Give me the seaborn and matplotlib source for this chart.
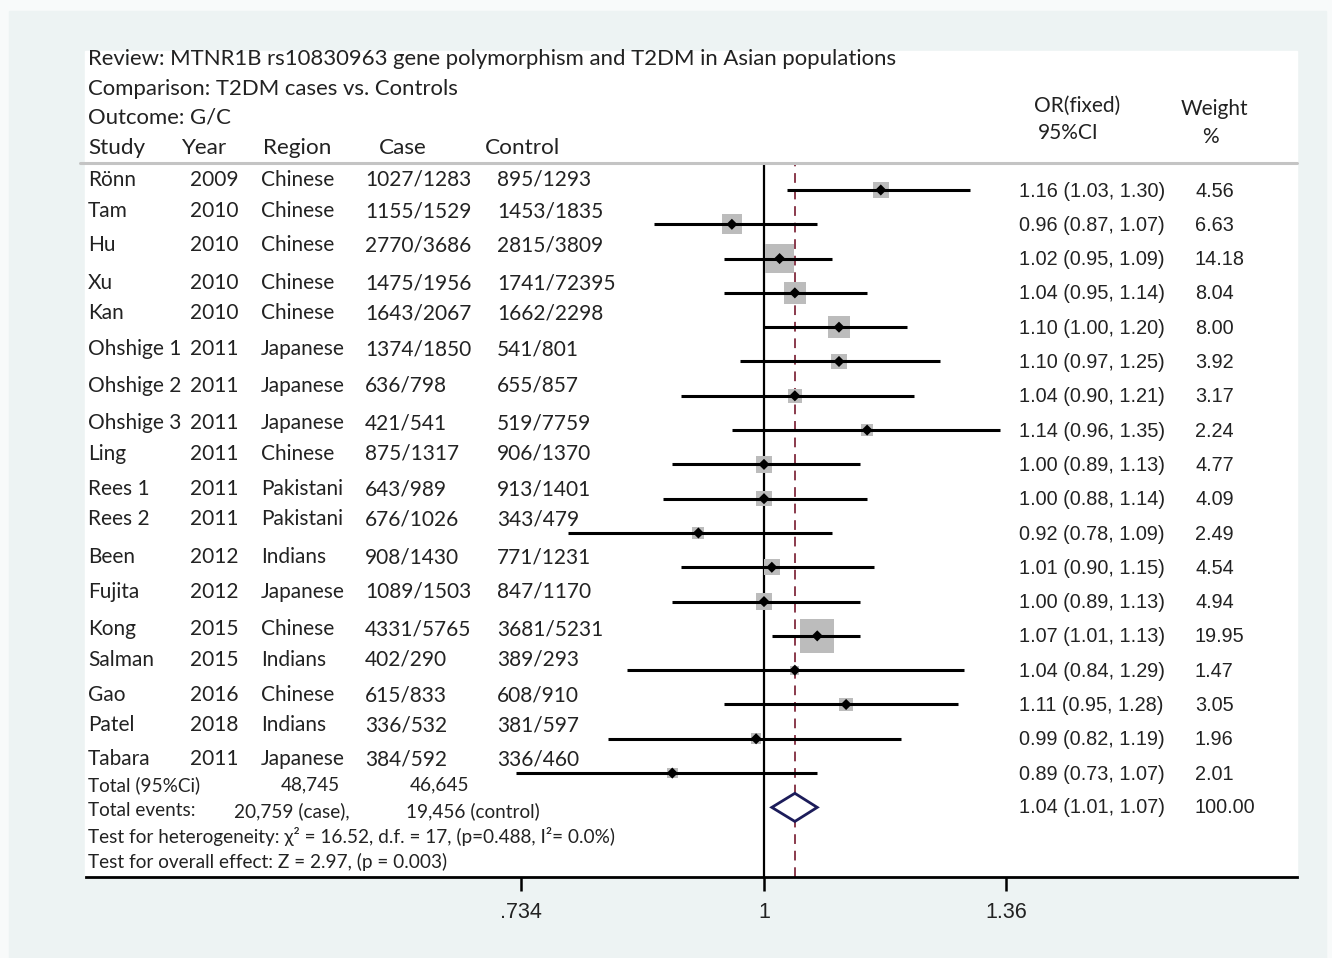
import matplotlib
matplotlib.use("Agg")
import matplotlib.pyplot as plt
import matplotlib.transforms as mtransforms
from matplotlib.patches import Rectangle
from matplotlib.lines import Line2D
from matplotlib.ticker import NullLocator
import seaborn as sns

studies = ["Rönn", "Tam", "Hu", "Xu", "Kan", "Ohshige 1", "Ohshige 2", "Ohshige 3", "Ling",
           "Rees 1", "Rees 2", "Been", "Fujita", "Kong", "Salman", "Gao", "Patel", "Tabara"]
years = [2009, 2010, 2010, 2010, 2010, 2011, 2011, 2011, 2011,
         2011, 2011, 2012, 2012, 2015, 2015, 2016, 2018, 2011]
regions = ["Chinese", "Chinese", "Chinese", "Chinese", "Chinese", "Japanese", "Japanese", "Japanese", "Chinese",
           "Pakistani", "Pakistani", "Indians", "Japanese", "Chinese", "Indians", "Chinese", "Indians", "Japanese"]
cases = ["1027/1283", "1155/1529", "2770/3686", "1475/1956", "1643/2067", "1374/1850", "636/798", "421/541",
         "875/1317", "643/989", "676/1026", "908/1430", "1089/1503", "4331/5765", "402/290", "615/833",
         "336/532", "384/592"]
controls = ["895/1293", "1453/1835", "2815/3809", "1741/72395", "1662/2298", "541/801", "655/857", "519/7759",
            "906/1370", "913/1401", "343/479", "771/1231", "847/1170", "3681/5231", "389/293", "608/910",
            "381/597", "336/460"]
odds = [1.16, 0.96, 1.02, 1.04, 1.10, 1.10, 1.04, 1.14, 1.00, 1.00, 0.92, 1.01, 1.00, 1.07, 1.04, 1.11, 0.99, 0.89]
ci_low = [1.03, 0.87, 0.95, 0.95, 1.00, 0.97, 0.90, 0.96, 0.89, 0.88, 0.78, 0.90, 0.89, 1.01, 0.84, 0.95, 0.82, 0.73]
ci_high = [1.30, 1.07, 1.09, 1.14, 1.20, 1.25, 1.21, 1.35, 1.13, 1.14, 1.09, 1.15, 1.13, 1.13, 1.29, 1.28, 1.19, 1.07]
weights = [4.56, 6.63, 14.18, 8.04, 8.00, 3.92, 3.17, 2.24, 4.77, 4.09, 2.49, 4.54, 4.94, 19.95, 1.47, 3.05, 1.96, 2.01]
pooled = (1.04, 1.01, 1.07)
pooled_weight = 100.00
xticks = [0.734, 1, 1.36]
xtick_labels = [".734", "1", "1.36"]

sns.set_theme(style="white")
plt.rcParams["font.family"] = ["Lato", "DejaVu Sans"]

W, H = 1332, 958
fig = plt.figure(figsize=(13.32, 9.58), dpi=100, facecolor="#f8fafa")


def fx(x):
    return x / W


def fy(y):
    return 1 - y / H


# background panels (kept below the axes)
fig.patches.append(Rectangle((fx(9), fy(958)), fx(1326) - fx(9), (958 - 11) / H,
                             transform=fig.transFigure, color="#edf3f3", zorder=-3))
fig.patches.append(Rectangle((fx(85), fy(877)), fx(1297) - fx(85), (877 - 51) / H,
                             transform=fig.transFigure, color="white", zorder=-2))

ax = fig.add_axes([fx(86), fy(877), fx(1297) - fx(86), (877 - 163) / H])
ax.set_facecolor("none")
ax.set_zorder(1)

rows = list(range(len(studies)))
pool_row = len(studies)

ax.set_xscale("log")
ax.set_xlim(0.4225, 1.9686)
ax.set_ylim(20.03, -0.787)

ax.axvline(1, color="black", lw=1.6, zorder=1)
ax.axvline(pooled[0], color="#8a3a4c", lw=1.4, ls=(0, (5, 3.5)), zorder=1)

sns.scatterplot(x=odds, y=rows, size=weights, sizes=(30 * min(weights), 30 * max(weights)),
                size_norm=(min(weights), max(weights)), marker="s", color="#bcbcbc",
                edgecolor="none", legend=False, ax=ax, zorder=2)
ax.hlines(rows, ci_low, ci_high, color="black", lw=2.2, zorder=3)
sns.scatterplot(x=odds, y=rows, marker="D", color="black", s=32, edgecolor="none",
                legend=False, ax=ax, zorder=4)

# pooled diamond
dh = 0.41
ax.fill([pooled[1], pooled[0], pooled[2], pooled[0]],
        [pool_row, pool_row - dh, pool_row, pool_row + dh],
        facecolor="white", edgecolor="#1c1c5a", lw=2, zorder=4)

arial = ["Liberation Sans", "DejaVu Sans"]
ax.set_xticks(xticks)
ax.set_xticklabels(xtick_labels, fontfamily=arial, fontsize=15.5, color="#222222")
ax.xaxis.set_minor_locator(NullLocator())
ax.set_yticks([])
for side in ["top", "left", "right"]:
    ax.spines[side].set_visible(False)
ax.spines["bottom"].set_color("black")
ax.spines["bottom"].set_linewidth(2)
ax.tick_params(axis="x", direction="out", length=10, width=1.8, color="black", pad=8, bottom=True)

# header rule
fig.add_artist(Line2D([fx(80), fx(1297)], [fy(163), fy(163)], color="#c4c4c4", lw=2.2))

txt = dict(color="#222222", va="center", ha="left")
fs = 15
hfs = 15.9

fig.text(fx(88), fy(59), "Review: MTNR1B rs10830963 gene polymorphism and T2DM in Asian populations", fontsize=hfs, **txt)
fig.text(fx(88), fy(89), "Comparison: T2DM cases vs. Controls", fontsize=hfs, **txt)
fig.text(fx(88), fy(118), "Outcome: G/C", fontsize=hfs, **txt)
for x, lab in zip([88, 181, 263, 379, 485], ["Study", "Year", "Region", "Case", "Control"]):
    fig.text(fx(x), fy(148), lab, fontsize=16.2, **txt)

cen = dict(color="#222222", va="center", ha="center", fontsize=15)
fig.text(fx(1077), fy(106), "OR(fixed)", **cen)
fig.text(fx(1068), fy(133), "95%CI", **cen)
fig.text(fx(1214), fy(109), "Weight", **cen)
fig.text(fx(1210), fy(137), "%", **cen)

left_y = [180, 211, 245, 283, 313, 349, 386, 423, 454, 489, 519, 557, 592, 629, 660, 695, 725, 759]
for i, y in enumerate(left_y):
    fig.text(fx(88), fy(y), studies[i], fontsize=fs, **txt)
    fig.text(fx(190), fy(y), str(years[i]), fontsize=fs, **txt)
    fig.text(fx(261), fy(y), regions[i], fontsize=fs, **txt)
    fig.text(fx(365), fy(y), cases[i], fontsize=fs, **txt)
    fig.text(fx(497), fy(y), controls[i], fontsize=fs, **txt)

sfs = 13.7
fig.text(fx(88), fy(785), "Total (95%Ci)", fontsize=sfs, **txt)
fig.text(fx(281), fy(785), "48,745", fontsize=sfs, **txt)
fig.text(fx(410), fy(785), "46,645", fontsize=sfs, **txt)
fig.text(fx(88), fy(811), "Total events:", fontsize=sfs, **txt)
fig.text(fx(234), fy(811), "20,759 (case),", fontsize=sfs, **txt)
fig.text(fx(406), fy(811), "19,456 (control)", fontsize=sfs, **txt)
fig.text(fx(88), fy(837), "Test for heterogeneity: χ² = 16.52, d.f. = 17, (p=0.488, I²= 0.0%)", fontsize=sfs, **txt)
fig.text(fx(88), fy(862), "Test for overall effect: Z = 2.97, (p = 0.003)", fontsize=sfs, **txt)

# right-hand OR / weight columns
blend = mtransforms.blended_transform_factory(fig.transFigure, ax.transData)
rfs = 14.3
for i in rows:
    fig.text(fx(1019), i + 0.03, f"{odds[i]:.2f} ({ci_low[i]:.2f}, {ci_high[i]:.2f})",
             transform=blend, fontsize=rfs, family=arial, **txt)
    fig.text(fx(1195), i + 0.03, f"{weights[i]:.2f}", transform=blend, fontsize=rfs, family=arial, **txt)
fig.text(fx(1019), pool_row, f"{pooled[0]:.2f} ({pooled[1]:.2f}, {pooled[2]:.2f})",
         transform=blend, fontsize=rfs, family=arial, **txt)
fig.text(fx(1195), pool_row, f"{pooled_weight:.2f}", transform=blend, fontsize=rfs, family=arial, **txt)

fig.savefig("out.png", dpi=100, facecolor=fig.get_facecolor())
